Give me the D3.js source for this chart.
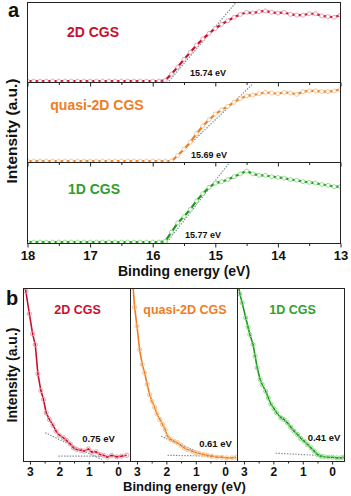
<!DOCTYPE html>
<html>
<head>
<meta charset="utf-8">
<script src="https://cdn.jsdelivr.net/npm/d3@7"></script>
<style>
body { margin: 0; background: #fff; }
text { font-family: "Liberation Sans", Arial, sans-serif; font-weight: bold; }
</style>
</head>
<body>
<div id="canvas"></div>
<script>
// panel a : secondary electron cutoff, 0.1 eV steps
const energyA = [18.0, 17.9, 17.8, 17.7, 17.6, 17.5, 17.4, 17.3, 17.2, 17.1, 17.0, 16.9, 16.8, 16.7, 16.6, 16.5, 16.4, 16.3, 16.2, 16.1, 16.0, 15.9, 15.8, 15.7, 15.6, 15.5, 15.4, 15.3, 15.2, 15.1, 15.0, 14.9, 14.8, 14.7, 14.6, 14.5, 14.4, 14.3, 14.2, 14.1, 14.0, 13.9, 13.8, 13.7, 13.6, 13.5, 13.4, 13.3, 13.2, 13.1, 13.0];
const cgs2dA = [0, 0, 0, 0, 0, 0, 0, 0, 0, 0, 0, 0, 0, 0, 0, 0, 0, 0, 0, 0, 0, 0, 0.01, 0.10, 0.20, 0.31, 0.41, 0.51, 0.60, 0.68, 0.75, 0.81, 0.86, 0.91, 0.95, 0.98, 0.97, 0.99, 1.00, 0.98, 0.97, 0.98, 0.95, 0.94, 0.94, 0.96, 0.96, 0.93, 0.92, 0.91, 0.94];
const quasiA = [0, 0, 0, 0, 0, 0, 0, 0, 0, 0, 0, 0, 0, 0, 0, 0, 0, 0, 0, 0, 0, 0, 0, 0, 0.08, 0.17, 0.27, 0.39, 0.50, 0.59, 0.67, 0.73, 0.78, 0.84, 0.89, 0.93, 0.94, 0.96, 0.98, 0.97, 0.96, 0.98, 0.97, 0.95, 0.99, 1.00, 1.00, 0.99, 0.99, 1.00, 1.02];
const cgs1dA = [0, 0, 0, 0, 0, 0, 0, 0, 0, 0, 0, 0, 0, 0, 0, 0, 0, 0, 0, 0, 0, 0, 0.01, 0.14, 0.27, 0.36, 0.46, 0.58, 0.68, 0.77, 0.83, 0.85, 0.88, 0.92, 0.96, 1.00, 0.96, 0.94, 0.94, 0.92, 0.91, 0.90, 0.88, 0.87, 0.85, 0.84, 0.83, 0.81, 0.80, 0.78, 0.78];
const ticksA = [18, 17, 16, 15, 14, 13];
const minorA = [17.5, 16.5, 15.5, 14.5, 13.5];
const onsetLabels = ['15.74 eV', '15.69 eV', '15.77 eV'];
const tangentA = [
  [[15.74, 0], [14.66, 1.13]],
  [[15.69, 0], [14.40, 1.10]],
  [[15.77, 0], [14.79, 1.10]],
];

// panel b : valence band edge
const e2dB = [3.18, 3.14, 3.02, 2.91, 2.82, 2.73, 2.63, 2.54, 2.45, 2.34, 2.22, 2.11, 2.00, 1.86, 1.75, 1.63, 1.52, 1.41, 1.27, 1.16, 1.01, 0.90, 0.75, 0.61, 0.50, 0.37, 0.22, 0.05, -0.12, -0.29];
const i2dB = [1.03, 0.984, 0.854, 0.738, 0.676, 0.507, 0.41, 0.358, 0.282, 0.243, 0.21, 0.175, 0.152, 0.137, 0.121, 0.102, 0.079, 0.069, 0.065, 0.06, 0.073, 0.054, 0.056, 0.04, 0.036, 0.025, 0.035, 0.027, 0.031, 0.036];
const eQuasiB = [3.15, 3.08, 3.00, 2.91, 2.82, 2.74, 2.65, 2.57, 2.49, 2.40, 2.32, 2.22, 2.13, 2.04, 1.96, 1.85, 1.73, 1.62, 1.51, 1.39, 1.28, 1.11, 1.00, 0.89, 0.74, 0.61, 0.45, 0.28, 0.11, -0.06, -0.23, -0.38];
const iQuasiB = [1.05, 0.892, 0.782, 0.647, 0.561, 0.513, 0.445, 0.387, 0.348, 0.314, 0.276, 0.243, 0.214, 0.185, 0.146, 0.127, 0.117, 0.108, 0.094, 0.079, 0.069, 0.059, 0.05, 0.046, 0.04, 0.036, 0.031, 0.025, 0.025, 0.021, 0.021, 0.025];
const e1dB = [3.19, 3.14, 3.06, 2.94, 2.86, 2.80, 2.69, 2.62, 2.55, 2.45, 2.38, 2.26, 2.17, 2.09, 1.98, 1.89, 1.75, 1.64, 1.52, 1.41, 1.30, 1.18, 1.07, 0.95, 0.84, 0.72, 0.61, 0.50, 0.38, 0.27, 0.13, -0.01, -0.16, -0.30, -0.41];
const i1dB = [1.02, 0.969, 0.917, 0.831, 0.776, 0.734, 0.676, 0.609, 0.542, 0.474, 0.445, 0.406, 0.368, 0.333, 0.306, 0.282, 0.253, 0.243, 0.224, 0.198, 0.175, 0.156, 0.133, 0.117, 0.098, 0.079, 0.06, 0.04, 0.031, 0.027, 0.025, 0.025, 0.021, 0.021, 0.025];
const ticksB = [3, 2, 1, 0];
const minorB = [2.5, 1.5, 0.5];
const gapLabels = ['0.75 eV', '0.61 eV', '0.41 eV'];
const tailB = [
  [[2.48, 0.166], [0.56, 0.012]],
  [[2.18, 0.146], [0.45, 0.021]],
  [[1.75, 0.262], [0.38, 0.021]],
];
const baseB = [
  [[2.03, 0.031], [0.50, 0.031]],
  [[1.96, 0.036], [0.05, 0.030]],
  [[1.92, 0.048], [0.42, 0.035]],
];

const names = ['2D CGS', 'quasi-2D CGS', '1D CGS'];
const colors = ['#c8102e', '#f07d1f', '#1f961f'];
const textColors = ['#c8102e', '#f07d1f', '#2ea02e'];
const markerColors = ['#e6a0ab', '#f5c38e', '#8edb86'];

const svg = d3
  .select('#canvas')
  .append('svg')
  .attr('width', 351)
  .attr('height', 496);

// ---- panel a ----
const xA = d3.scaleLinear().domain([18, 13]).range([27.5, 340.5]);
const rowsA = [[2.5, 82.5], [82.5, 162.5], [162.5, 243.5]];
const seriesA = [cgs2dA, quasiA, cgs1dA];
const nameLabelA = [[93, 37], [97, 110], [94, 194]];
const onsetPos = [[208, 75.5], [209, 158], [203, 238]];

seriesA.forEach((vals, i) => {
  const [top, bottom] = rowsA[i];
  const yA = d3.scaleLinear().domain([-0.02, 1.12]).range([bottom, top]);
  const pts = energyA.map((e, k) => ({ e, v: vals[k] }));

  svg.append('clipPath').attr('id', 'clipA' + i)
    .append('rect')
    .attr('x', xA(18)).attr('y', top)
    .attr('width', xA(13) - xA(18)).attr('height', bottom - top);

  const g = svg.append('g').attr('clip-path', `url(#clipA${i})`);

  g.append('path')
    .attr('d', d3.line().x(d => xA(d[0])).y(d => yA(d[1]))(tangentA[i]))
    .attr('fill', 'none')
    .attr('stroke', '#7d8b99')
    .attr('stroke-width', 1.2)
    .attr('stroke-dasharray', '1.4,1.4');

  g.append('path')
    .attr('d', d3.line().x(d => xA(d.e)).y(d => yA(d.v))(pts))
    .attr('fill', 'none')
    .attr('stroke', colors[i])
    .attr('stroke-width', 2.2);

  g.selectAll('circle')
    .data(pts)
    .enter()
    .append('circle')
    .attr('cx', d => xA(d.e))
    .attr('cy', d => yA(d.v))
    .attr('r', 2)
    .attr('fill', '#fff')
    .attr('stroke', markerColors[i])
    .attr('stroke-width', 0.9);

  svg.append('text')
    .attr('x', nameLabelA[i][0]).attr('y', nameLabelA[i][1])
    .attr('text-anchor', 'middle')
    .attr('font-size', 14)
    .attr('fill', textColors[i])
    .text(names[i]);

  svg.append('text')
    .attr('x', onsetPos[i][0]).attr('y', onsetPos[i][1])
    .attr('text-anchor', 'middle')
    .attr('font-size', 9)
    .attr('fill', '#111')
    .text(onsetLabels[i]);

  const major = svg.append('g')
    .attr('transform', `translate(0, ${bottom})`)
    .call(d3.axisBottom(xA).tickValues(ticksA).tickSize(4).tickPadding(3)
      .tickFormat(i === 2 ? d3.format('d') : ''));
  major.select('.domain').remove();
  major.selectAll('line').attr('stroke', '#222');
  major.selectAll('text').attr('font-size', 13).attr('font-family', null).attr('fill', '#111');

  const minor = svg.append('g')
    .attr('transform', `translate(0, ${bottom})`)
    .call(d3.axisBottom(xA).tickValues(minorA).tickSize(2.5).tickFormat(''));
  minor.select('.domain').remove();
  minor.selectAll('line').attr('stroke', '#222');

  svg.append('rect')
    .attr('x', xA(18)).attr('y', top)
    .attr('width', xA(13) - xA(18)).attr('height', bottom - top)
    .attr('fill', 'none')
    .attr('stroke', '#222')
    .attr('stroke-width', 1);
});

svg.append('text')
  .attr('x', 184).attr('y', 275.5)
  .attr('text-anchor', 'middle')
  .attr('font-size', 14)
  .attr('fill', '#111')
  .text('Binding energy (eV)');

svg.append('text')
  .attr('transform', 'translate(17,131) rotate(-90)')
  .attr('text-anchor', 'middle')
  .attr('font-size', 15.5)
  .attr('fill', '#111')
  .text('Intensity (a.u.)');

svg.append('text')
  .attr('x', 8).attr('y', 17)
  .attr('font-size', 20)
  .attr('fill', '#111')
  .text('a');

// ---- panel b ----
const colsB = [[23.5, 130.5], [130.5, 237.5], [237.5, 344.5]];
const yB = d3.scaleLinear().domain([0, 1]).range([461.5, 288.5]);
const seriesB = [[e2dB, i2dB], [eQuasiB, iQuasiB], [e1dB, i1dB]];
const nameLabelB = [77.5, 185, 292.5];
const gapPos = [[98.5, 442.3], [215.5, 446.5], [324, 441.3]];

seriesB.forEach(([es, vs], i) => {
  const [left, right] = colsB[i];
  const xB = d3.scaleLinear().domain([3.22, -0.42]).range([left, right]);
  const pts = es.map((e, k) => ({ e, v: vs[k] }));

  svg.append('clipPath').attr('id', 'clipB' + i)
    .append('rect')
    .attr('x', left).attr('y', yB(1))
    .attr('width', right - left).attr('height', yB(0) - yB(1));

  const g = svg.append('g').attr('clip-path', `url(#clipB${i})`);

  [tailB[i], baseB[i]].forEach(seg => {
    g.append('path')
      .attr('d', d3.line().x(d => xB(d[0])).y(d => yB(d[1]))(seg))
      .attr('fill', 'none')
      .attr('stroke', '#7d8b99')
      .attr('stroke-width', 1.2)
      .attr('stroke-dasharray', '1.4,1.4');
  });

  g.append('path')
    .attr('d', d3.line().x(d => xB(d.e)).y(d => yB(d.v))(pts))
    .attr('fill', 'none')
    .attr('stroke', colors[i])
    .attr('stroke-width', 1.6);

  g.selectAll('circle')
    .data(pts)
    .enter()
    .append('circle')
    .attr('cx', d => xB(d.e))
    .attr('cy', d => yB(d.v))
    .attr('r', 2.1)
    .attr('fill', 'none')
    .attr('stroke', markerColors[i])
    .attr('stroke-width', 1);

  svg.append('text')
    .attr('x', nameLabelB[i]).attr('y', 314)
    .attr('text-anchor', 'middle')
    .attr('font-size', 12.5)
    .attr('fill', textColors[i])
    .text(names[i]);

  svg.append('text')
    .attr('x', gapPos[i][0]).attr('y', gapPos[i][1])
    .attr('text-anchor', 'middle')
    .attr('font-size', 9.5)
    .attr('fill', '#111')
    .text(gapLabels[i]);

  const major = svg.append('g')
    .attr('transform', `translate(0, ${yB(0)})`)
    .call(d3.axisBottom(xB).tickValues(ticksB).tickSize(3).tickPadding(3).tickFormat(d3.format('d')));
  major.select('.domain').remove();
  major.selectAll('line').attr('stroke', '#222');
  major.selectAll('text').attr('font-size', 12).attr('font-family', null).attr('fill', '#111');

  const minor = svg.append('g')
    .attr('transform', `translate(0, ${yB(0)})`)
    .call(d3.axisBottom(xB).tickValues(minorB).tickSize(2).tickFormat(''));
  minor.select('.domain').remove();
  minor.selectAll('line').attr('stroke', '#222');

  svg.append('rect')
    .attr('x', left).attr('y', yB(1))
    .attr('width', right - left).attr('height', yB(0) - yB(1))
    .attr('fill', 'none')
    .attr('stroke', '#222')
    .attr('stroke-width', 1);
});

svg.append('text')
  .attr('x', 184.5).attr('y', 491)
  .attr('text-anchor', 'middle')
  .attr('font-size', 13)
  .attr('fill', '#111')
  .text('Binding energy (eV)');

svg.append('text')
  .attr('transform', 'translate(17,375) rotate(-90)')
  .attr('text-anchor', 'middle')
  .attr('font-size', 14)
  .attr('fill', '#111')
  .text('Intensity (a.u.)');

svg.append('text')
  .attr('x', 6).attr('y', 305)
  .attr('font-size', 20)
  .attr('fill', '#111')
  .text('b');
</script>
</body>
</html>
